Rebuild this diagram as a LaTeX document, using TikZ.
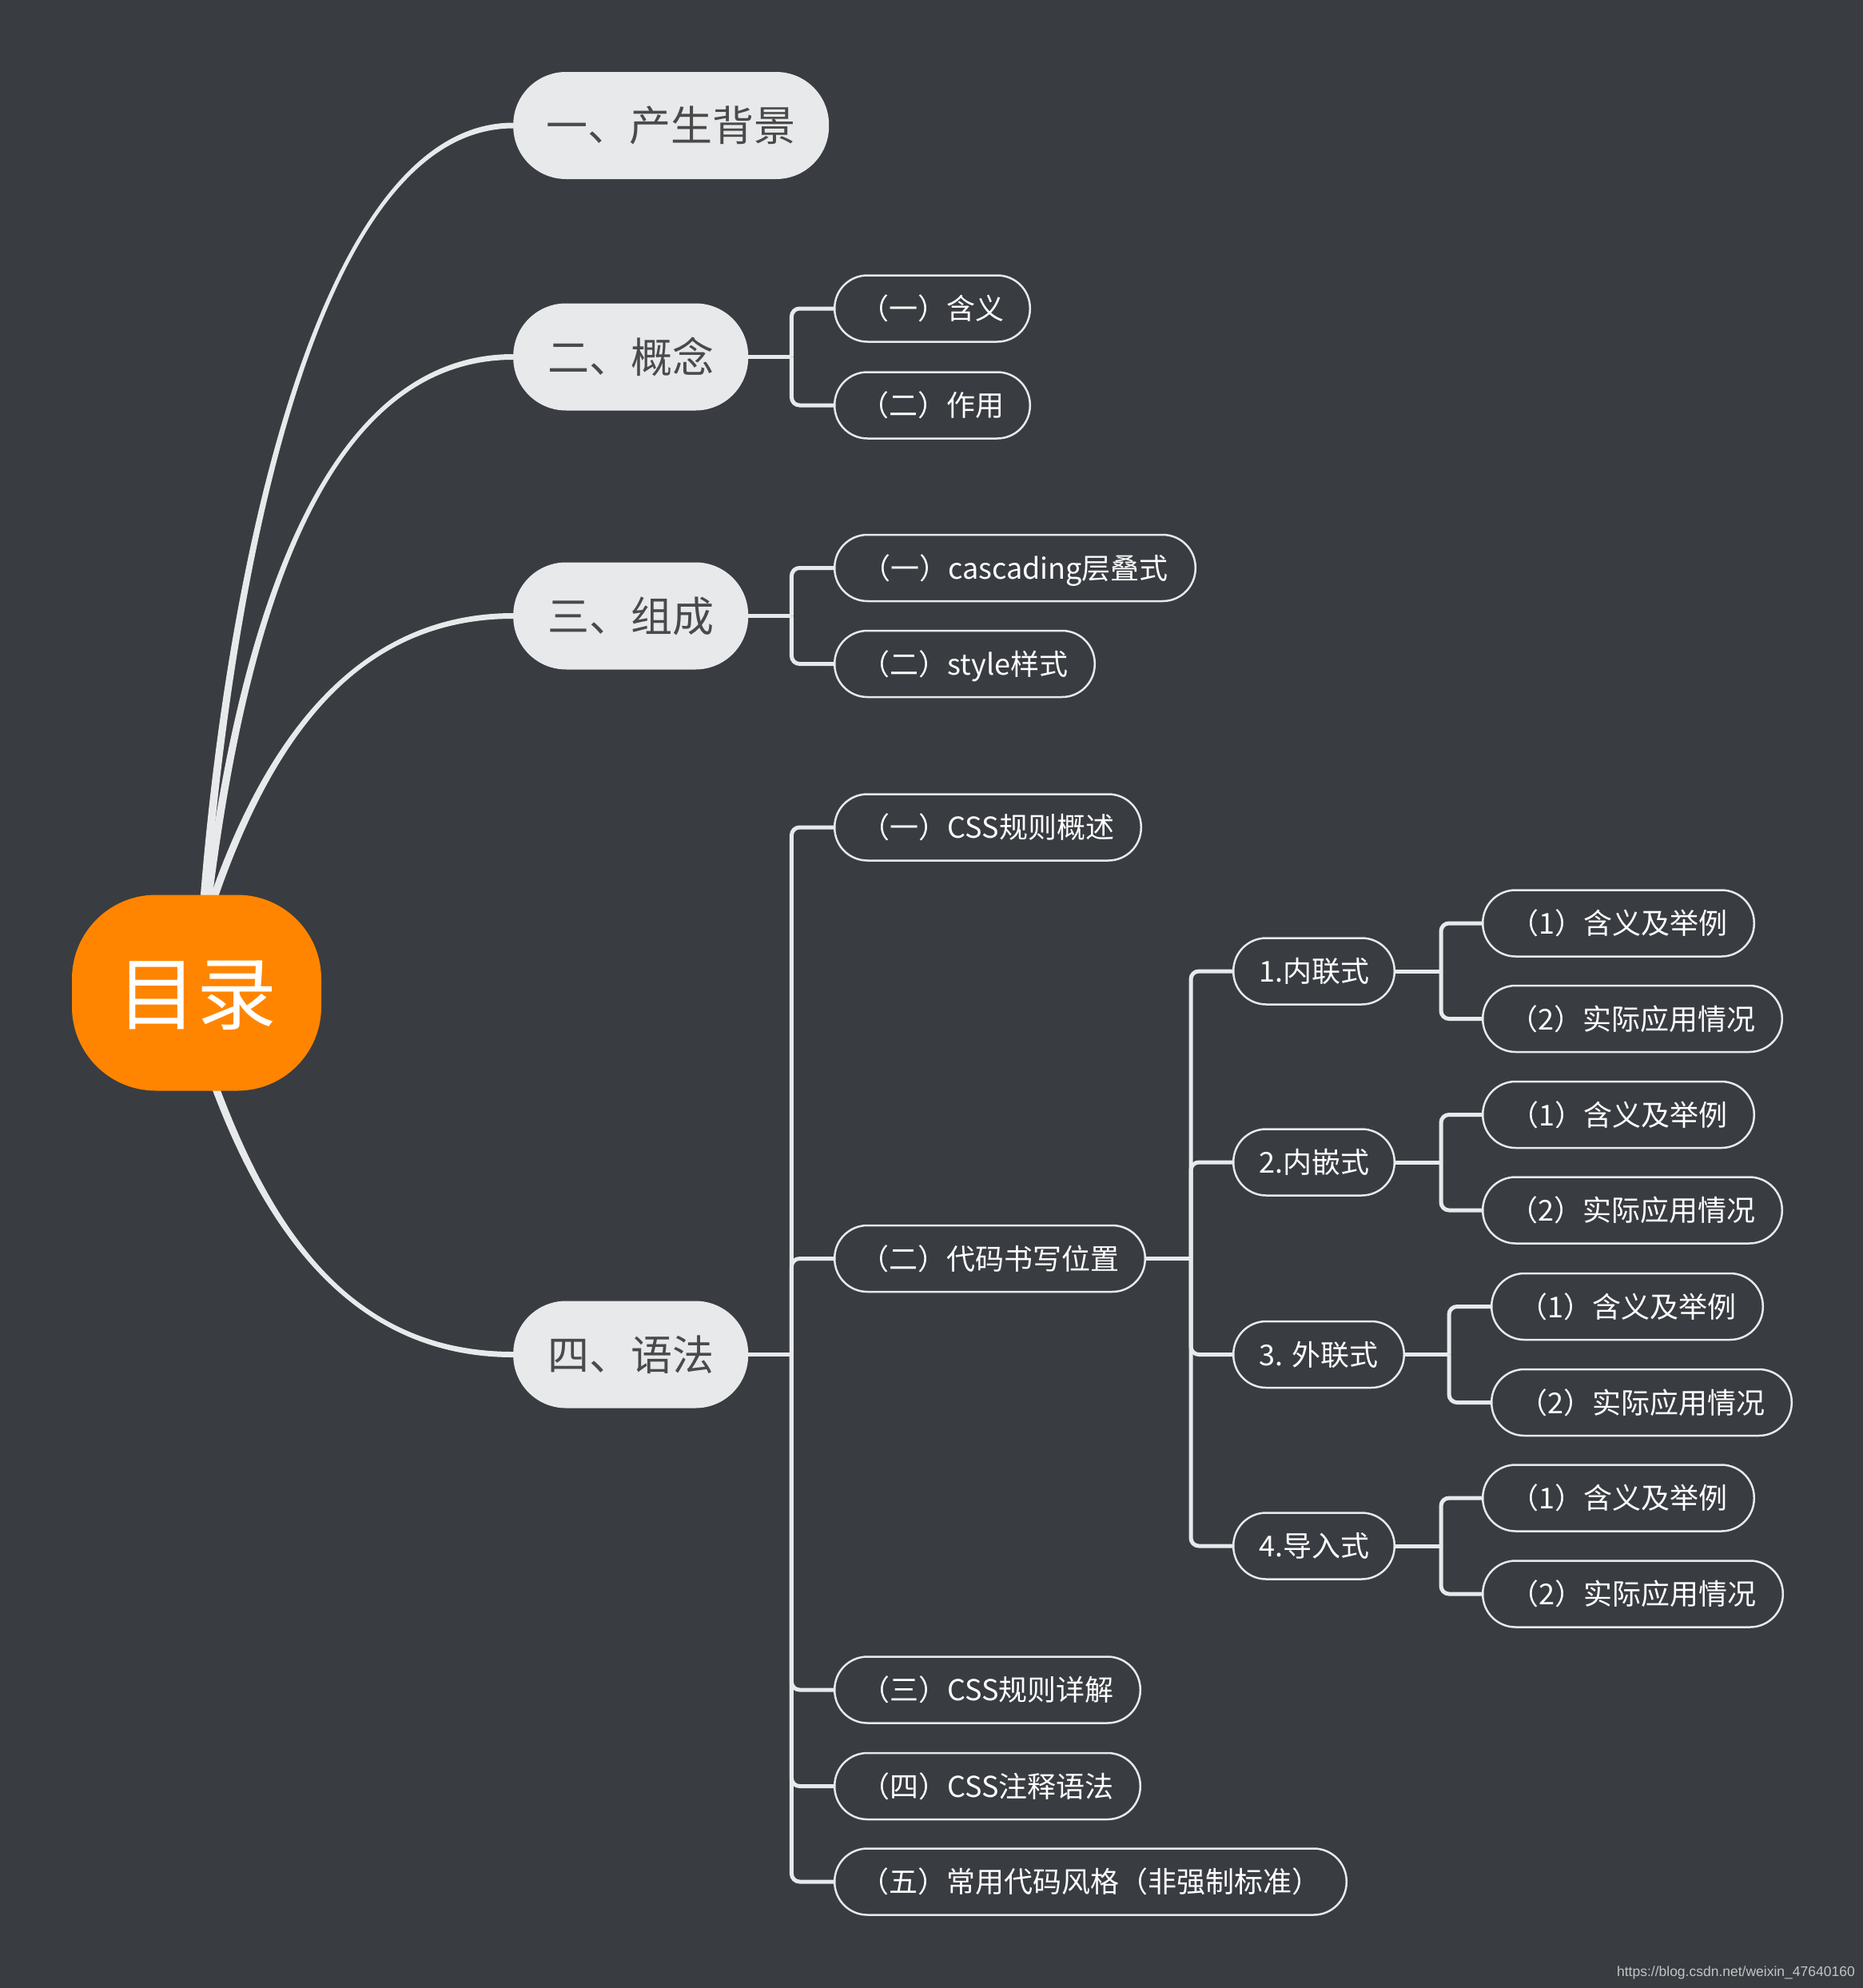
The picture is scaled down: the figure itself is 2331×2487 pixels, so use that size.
\documentclass[tikz,border=0pt]{standalone}
\usepackage{fontspec}
\setmainfont{Noto Sans CJK SC}
\newfontfamily\wmfont{Liberation Sans}
\usetikzlibrary{calc}
\definecolor{bgc}{HTML}{393C41}
\definecolor{lightc}{HTML}{E8E9EB}
\definecolor{darkc}{HTML}{4A4A4A}
\definecolor{orangec}{HTML}{FF8500}
\definecolor{wmc}{HTML}{C4C4C4}
\pgfdeclarelayer{bglayer}
\pgfdeclarelayer{connlayer}
\pgfsetlayers{bglayer,connlayer,main}
\begin{document}
\begin{tikzpicture}[x=1pt,y=-1pt,
  rootnode/.style={fill=orangec, text=white, font=\fontsize{100}{110}\selectfont,
    minimum width=312pt, minimum height=245pt, rounded corners=105pt, inner sep=0pt,
    text height=88pt, text depth=12pt},
  l1node/.style={fill=lightc, text=darkc, font=\fontsize{52}{60}\selectfont,
    minimum height=134pt, rounded corners=66pt, inner sep=0pt, anchor=west,
    text height=45.8pt, text depth=6.2pt},
  subnode/.style={draw=lightc, line width=2.5pt, fill=bgc, text=white,
    font=\fontsize{36}{42}\selectfont, minimum height=83pt, rounded corners=41pt,
    inner sep=0pt, anchor=west, text height=31.7pt, text depth=4.3pt},
  conn/.style={draw=lightc, line width=5pt, rounded corners=10pt},
  curvec/.style={fill=lightc}
]
\useasboundingbox (0,0) rectangle (2331,2487);
\begin{pgfonlayer}{bglayer}
  \fill[bgc] (0,0) rectangle (2331,2487);
\end{pgfonlayer}

% root and main topics
\node[rootnode] (root) at (246,1242) {目录};
\node[l1node, minimum width=395pt] (n1) at (642,157) {一、产生背景};
\node[l1node, minimum width=294pt] (n2) at (642,446.5) {二、概念};
\node[l1node, minimum width=294pt] (n3) at (642,770.5) {三、组成};
\node[l1node, minimum width=294pt] (n4) at (642,1694.5) {四、语法};

% level 2
\node[subnode, minimum width=244.5pt] (a1) at (1043,386) {（一）含义};
\node[subnode, minimum width=244.5pt] (a2) at (1043,507) {（二）作用};
\node[subnode, minimum width=451.5pt] (b1) at (1043,710.5) {（一）cascading层叠式};
\node[subnode, minimum width=325.5pt] (b2) at (1043,830.5) {（二）style样式};
\node[subnode, minimum width=383.5pt] (c1) at (1043,1035) {（一）CSS规则概述};
\node[subnode, minimum width=388.5pt] (c2) at (1043,1574.5) {（二）代码书写位置};
\node[subnode, minimum width=382.5pt] (c3) at (1043,2114) {（三）CSS规则详解};
\node[subnode, minimum width=382.5pt] (c4) at (1043,2234.5) {（四）CSS注释语法};
\node[subnode, minimum width=640.5pt] (c5) at (1043,2354) {（五）常用代码风格（非强制标准）};

% level 3
\node[subnode, minimum width=201.5pt] (d1) at (1542,1215) {1.内联式};
\node[subnode, minimum width=201.5pt] (d2) at (1542,1454) {2.内嵌式};
\node[subnode, minimum width=213.5pt] (d3) at (1542,1694.5) {3. 外联式};
\node[subnode, minimum width=201.5pt] (d4) at (1542,1934) {4.导入式};

% level 4
\node[subnode, minimum width=339.5pt] (e11) at (1854,1155) {（1）含义及举例};
\node[subnode, minimum width=374.5pt] (e12) at (1854,1274.5) {（2）实际应用情况};
\node[subnode, minimum width=339.5pt] (e21) at (1854,1394.5) {（1）含义及举例};
\node[subnode, minimum width=374.5pt] (e22) at (1854,1514) {（2）实际应用情况};
\node[subnode, minimum width=339.5pt] (e31) at (1865,1634.5) {（1）含义及举例};
\node[subnode, minimum width=375.5pt] (e32) at (1865,1754.5) {（2）实际应用情况};
\node[subnode, minimum width=339.5pt] (e41) at (1854,1874) {（1）含义及举例};
\node[subnode, minimum width=375.5pt] (e42) at (1854,1994) {（2）实际应用情况};

% watermark
\node[anchor=base east, inner sep=0pt, text=wmc, font=\wmfont\fontsize{17.5}{20}\selectfont] (wm) at (2321,2472) {https://blog.csdn.net/weixin\_47640160};

% start points of the curves on the root
\coordinate (s1) at (256,1119);
\coordinate (s2) at (261,1119);
\coordinate (s3) at (269,1119);
\coordinate (s4) at (271,1364);

% junctions
\coordinate (j2) at ($(n2.east)+(54,0)$);
\coordinate (j3) at ($(n3.east)+(54,0)$);
\coordinate (j4) at ($(n4.east)+(54,0)$);
\coordinate (jc2) at ($(c2.east)+(56,0)$);
\coordinate (jd1) at ($(d1.east)+(57,0)$);
\coordinate (jd2) at ($(d2.east)+(57,0)$);
\coordinate (jd3) at ($(d3.east)+(55,0)$);
\coordinate (jd4) at ($(d4.east)+(57,0)$);

\begin{pgfonlayer}{connlayer}
  % tapered curves from the root
  \fill[curvec] ($(s1)+(-5,15)$) -- ($(s1)+(-5,0)$) .. controls (285,700) and (400,153.5) .. ($(n1.west)+(0,-3.5)$)
    -- ($(n1.west)+(30,-3.5)$) -- ($(n1.west)+(30,3.5)$) -- ($(n1.west)+(0,3.5)$)
    .. controls (400,160.5) and (295,700) .. ($(s1)+(5,0)$) -- ($(s1)+(5,15)$) -- cycle;
  \fill[curvec] ($(s2)+(-5,15)$) -- ($(s2)+(-5,0)$) .. controls (298,789) and (400,443) .. ($(n2.west)+(0,-3.5)$)
    -- ($(n2.west)+(30,-3.5)$) -- ($(n2.west)+(30,3.5)$) -- ($(n2.west)+(0,3.5)$)
    .. controls (400,450) and (308,789) .. ($(s2)+(5,0)$) -- ($(s2)+(5,15)$) -- cycle;
  \fill[curvec] ($(s3)+(-5,15)$) -- ($(s3)+(-5,0)$) .. controls (330,932) and (442,767) .. ($(n3.west)+(0,-3.5)$)
    -- ($(n3.west)+(30,-3.5)$) -- ($(n3.west)+(30,3.5)$) -- ($(n3.west)+(0,3.5)$)
    .. controls (442,774) and (340,932) .. ($(s3)+(5,0)$) -- ($(s3)+(5,15)$) -- cycle;
  \fill[curvec] ($(s4)+(-5,-15)$) -- ($(s4)+(-5,0)$) .. controls (334,1543) and (442,1698) .. ($(n4.west)+(0,3.5)$)
    -- ($(n4.west)+(30,3.5)$) -- ($(n4.west)+(30,-3.5)$) -- ($(n4.west)+(0,-3.5)$)
    .. controls (442,1691) and (344,1543) .. ($(s4)+(5,0)$) -- ($(s4)+(5,-15)$) -- cycle;

  % brackets
  \draw[conn] (n2.center) -- (j2);
  \draw[conn] (j2) |- (a1.center);
  \draw[conn] (j2) |- (a2.center);

  \draw[conn] (n3.center) -- (j3);
  \draw[conn] (j3) |- (b1.center);
  \draw[conn] (j3) |- (b2.center);

  \draw[conn] (n4.center) -- (j4);
  \draw[conn] (j4) |- (c1.center);
  \draw[conn] (j4) |- (c2.center);
  \draw[conn] (j4) |- (c3.center);
  \draw[conn] (j4) |- (c4.center);
  \draw[conn] (j4) |- (c5.center);

  \draw[conn] (c2.center) -- (jc2);
  \draw[conn] (jc2) |- (d1.center);
  \draw[conn] (jc2) |- (d2.center);
  \draw[conn] (jc2) |- (d3.center);
  \draw[conn] (jc2) |- (d4.center);

  \draw[conn] (d1.center) -- (jd1);
  \draw[conn] (jd1) |- (e11.center);
  \draw[conn] (jd1) |- (e12.center);
  \draw[conn] (d2.center) -- (jd2);
  \draw[conn] (jd2) |- (e21.center);
  \draw[conn] (jd2) |- (e22.center);
  \draw[conn] (d3.center) -- (jd3);
  \draw[conn] (jd3) |- (e31.center);
  \draw[conn] (jd3) |- (e32.center);
  \draw[conn] (d4.center) -- (jd4);
  \draw[conn] (jd4) |- (e41.center);
  \draw[conn] (jd4) |- (e42.center);
\end{pgfonlayer}
\end{tikzpicture}
\end{document}
